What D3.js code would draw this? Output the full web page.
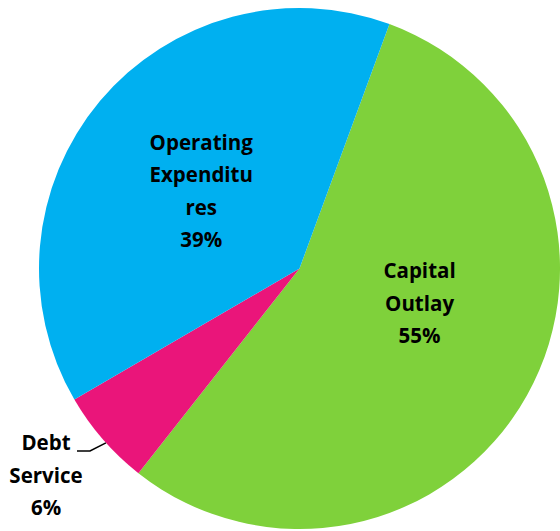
<!DOCTYPE html>
<html>
<head>
<meta charset="utf-8">
<script src="https://cdn.jsdelivr.net/npm/d3@7"></script>
<style>
  html, body { margin: 0; padding: 0; background: #fff; }
  svg { display: block; }
</style>
</head>
<body>
<svg id="chart" width="560" height="531"></svg>
<script>
// Budget split by category
const categories = ["Capital Outlay", "Debt Service", "Operating Expenditures"];
const values = [55, 6, 39];
const labelLines = [["Capital", "Outlay", "55%"], ["Debt", "Service", "6%"], ["Operating", "Expenditu", "res", "39%"]];
const colors = ["#7FD13B", "#EA157A", "#00B0F0"];

const width = 560, height = 531;
const cx = 299.5, cy = 268.5, R = 260.5;

const svg = d3.select("#chart");
const g = svg.append("g").attr("transform", `translate(${cx},${cy})`);

const pie = d3.pie().sort(null).value(d => d)
  .startAngle(20.2 * Math.PI / 180)
  .endAngle(20.2 * Math.PI / 180 + 2 * Math.PI);
const arcs = pie(values);
const arc = d3.arc().innerRadius(0).outerRadius(R);

g.selectAll("path.slice").data(arcs).join("path")
  .attr("class", "slice")
  .attr("d", arc)
  .attr("fill", (d, i) => colors[i]);

const fontSize = 20.5, lineH = 32.5;

function drawLabel(lines, x, y) {
  const t = g.append("text")
    .attr("text-anchor", "middle")
    .attr("font-family", "'Open Sans', sans-serif")
    .attr("font-weight", "bold")
    .attr("font-size", fontSize)
    .attr("fill", "#000");
  const top = y - (lines.length - 1) * lineH / 2;
  lines.forEach((s, k) => {
    t.append("tspan").attr("x", x).attr("y", top + k * lineH).attr("dy", "0.35em").text(s);
  });
}

// inside labels for the two large slices
const mid = d => (d.startAngle + d.endAngle) / 2;
const insideNudge = [-13 * Math.PI / 180, 0, -1.8 * Math.PI / 180];
[0, 2].forEach(i => {
  const [x, y] = d3.pointRadial(mid(arcs[i]) + insideNudge[i], R * 0.48);
  drawLabel(labelLines[i], x, y);
});

// outside label with a leader line for the small slice
{
  const d = arcs[1];
  const [ex, ey] = d3.pointRadial(mid(d) - 1 * Math.PI / 180, R);
  const [lx, ly] = [-209.5, 182.5];
  g.append("path")
    .attr("d", d3.line()([[ex, ey], [lx, ly], [lx - 13, ly]]))
    .attr("fill", "none").attr("stroke", "#000").attr("stroke-width", 1.5);
  drawLabel(labelLines[1], -253.5, 207);
}
</script>
</body>
</html>
